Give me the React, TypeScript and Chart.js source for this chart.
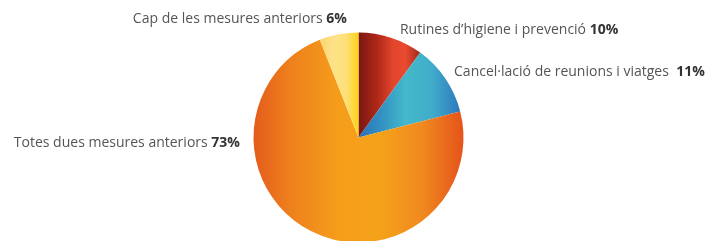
import React, { useEffect, useRef } from "react";
import { Chart, registerables } from "chart.js";

Chart.register(...registerables);

const categories = [
  "Rutines d\u2019higiene i prevenció",
  "Cancel·lació de reunions i viatges ",
  "Totes dues mesures anteriors",
  "Cap de les mesures anteriors",
];
const values = [10, 11, 73, 6];
const valueLabels = ["10%", "11%", "73%", "6%"];

// gradient stops: [offset from centre in units of radius, colour]
const gradientStops: [number, string][][] = [
  [[0, "#7a1711"], [0.18, "#b02818"], [0.33, "#e3452d"], [0.45, "#e84b30"], [0.6, "#9c2317"]],
  [[0, "#2a6fb9"], [0.25, "#3597c4"], [0.45, "#44b9ca"], [0.7, "#40acca"], [1.0, "#2b72bd"]],
  [[-1, "#e45c1c"], [-0.65, "#ee801d"], [-0.2, "#f59d1a"], [0.2, "#f5a21a"], [0.6, "#f08a1f"], [1.0, "#e5531b"]],
  [[-0.37, "#fcd46a"], [-0.25, "#fde289"], [-0.12, "#fee07a"], [0, "#fdd118"]],
];

// label placement relative to pie centre, in radius units
const labelPos: { dx: number; dy: number; align: "left" | "right" }[] = [
  { dx: 0.395, dy: -0.986, align: "left" },
  { dx: 0.91, dy: -0.586, align: "left" },
  { dx: -1.129, dy: 0.09, align: "right" },
  { dx: -0.11, dy: -1.09, align: "right" },
];

const labelPlugin = {
  id: "sliceLabels",
  afterDraw(chart: any) {
    const { ctx, chartArea } = chart;
    const cx = (chartArea.left + chartArea.right) / 2;
    const cy = (chartArea.top + chartArea.bottom) / 2;
    const r = Math.min(chartArea.right - chartArea.left, chartArea.bottom - chartArea.top) / 2;
    ctx.save();
    ctx.textBaseline = "alphabetic";
    categories.forEach((name, i) => {
      const p = labelPos[i];
      const x = cx + p.dx * r;
      const y = cy + p.dy * r;
      const normal = '14px "Open Sans"';
      const bold = 'bold 14px "Open Sans"';
      ctx.font = normal;
      const w1 = ctx.measureText(name + " ").width;
      ctx.font = bold;
      const w2 = ctx.measureText(valueLabels[i]).width;
      const start = p.align === "left" ? x : x - (w1 + w2);
      ctx.textAlign = "left";
      ctx.font = normal;
      ctx.fillStyle = "#555555";
      ctx.fillText(name + " ", start, y);
      ctx.font = bold;
      ctx.fillStyle = "#333333";
      ctx.fillText(valueLabels[i], start + w1, y);
    });
    ctx.restore();
  },
};

export default function App() {
  const ref = useRef<HTMLCanvasElement>(null);
  useEffect(() => {
    document.body.style.margin = "0";
    const canvas = ref.current!;
    const chart = new Chart(canvas, {
      type: "pie",
      data: {
        labels: categories,
        datasets: [
          {
            data: values,
            borderWidth: 0,
            backgroundColor: (c: any) => {
              const ch = c.chart;
              const area = ch.chartArea;
              const stops = gradientStops[c.dataIndex] || gradientStops[0];
              if (!area) return stops[0][1];
              const cx = (area.left + area.right) / 2;
              const r = Math.min(area.right - area.left, area.bottom - area.top) / 2;
              const x0 = cx + stops[0][0] * r;
              const x1 = cx + stops[stops.length - 1][0] * r;
              const g = ch.ctx.createLinearGradient(x0, 0, x1, 0);
              stops.forEach(([o, col]) => {
                g.addColorStop((cx + o * r - x0) / (x1 - x0), col);
              });
              return g;
            },
          },
        ],
      },
      options: {
        responsive: false,
        animation: false,
        layout: { padding: { top: 32.5, bottom: 7.5, left: 253.5, right: 245.5 } },
        plugins: { legend: { display: false }, tooltip: { enabled: false } },
      },
      plugins: [labelPlugin],
    });
    return () => chart.destroy();
  }, []);
  return (
    <div style={{ position: "absolute", left: 0, top: 0, width: 709, height: 241, overflow: "hidden", background: "#fff" }}>
      <canvas ref={ref} width={709} height={250} style={{ display: "block" }} />
    </div>
  );
}
